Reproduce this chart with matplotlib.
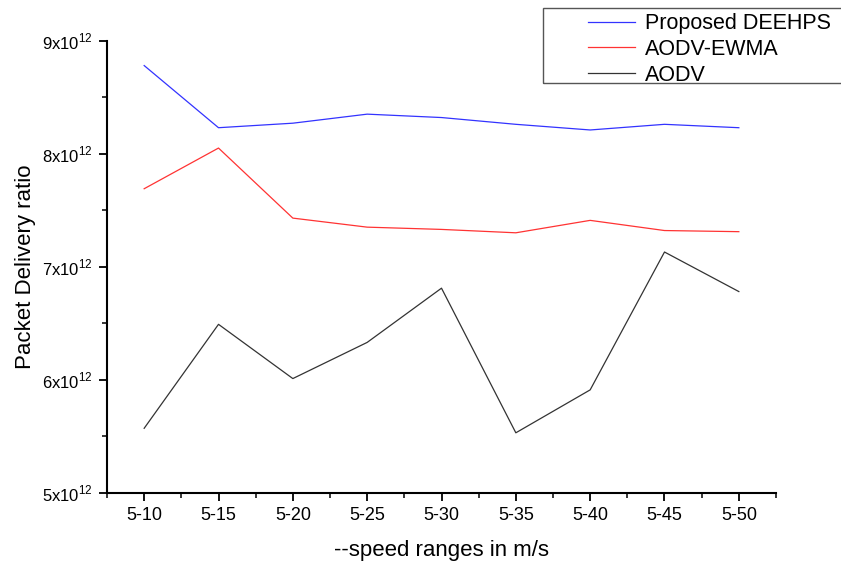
import matplotlib
matplotlib.use("Agg")
import matplotlib.pyplot as plt
from matplotlib.patches import Rectangle
from matplotlib.ticker import FixedLocator, MultipleLocator

plt.rcParams['font.family'] = ['Liberation Sans', 'DejaVu Sans']
plt.rcParams['mathtext.fontset'] = 'custom'
plt.rcParams['mathtext.rm'] = 'Liberation Sans'

categories = ['5-10', '5-15', '5-20', '5-25', '5-30', '5-35', '5-40', '5-45', '5-50']
deehps = [8.78, 8.23, 8.27, 8.35, 8.32, 8.26, 8.21, 8.26, 8.23]
aodv_ewma = [7.69, 8.05, 7.43, 7.35, 7.33, 7.30, 7.41, 7.32, 7.31]
aodv = [5.57, 6.49, 6.01, 6.33, 6.81, 5.53, 5.91, 7.13, 6.78]
scale = 1e12
y_ticks = [5, 6, 7, 8, 9]

fig = plt.figure(figsize=(8.41, 5.61), dpi=100)
ax = fig.add_axes([107/841, 1-492.7/561, (776-107)/841, (492.7-40.7)/561])

x = list(range(len(categories)))
l1, = ax.plot(x, [v*scale for v in deehps], color='#3333ff', lw=0.9, label='Proposed DEEHPS')
l2, = ax.plot(x, [v*scale for v in aodv_ewma], color='#ff3333', lw=0.9, label='AODV-EWMA')
l3, = ax.plot(x, [v*scale for v in aodv], color='#333333', lw=0.9, label='AODV')

ax.set_xlim(-0.5, 8.5)
ax.set_ylim(5e12, 9e12)
ax.set_xticks(x)
ax.set_xticklabels(categories, fontsize=13)
ax.xaxis.set_minor_locator(FixedLocator([i + 0.5 for i in range(-1, 9)]))
ax.set_yticks([v*scale for v in y_ticks])
ax.set_yticklabels([r'$%d\mathrm{x10}^{12}$' % v for v in y_ticks], fontsize=12)
ax.yaxis.set_minor_locator(MultipleLocator(0.5e12))
ax.tick_params(which='major', direction='out', length=6, width=1.3, pad=4)
ax.tick_params(which='minor', direction='out', length=3.5, width=1.1)
for s in ['top', 'right']:
    ax.spines[s].set_visible(False)
for s in ['left', 'bottom']:
    ax.spines[s].set_linewidth(1.5)

ax.set_xlabel('--speed ranges in m/s', fontsize=16, labelpad=12)
ax.set_ylabel('Packet Delivery ratio', fontsize=16, labelpad=5)

rect = Rectangle((543/841, 1-83/561), 0.5, 75/561, transform=fig.transFigure,
                 fill=False, edgecolor='#555555', lw=1.0, clip_on=False)
fig.add_artist(rect)
fig.legend(handles=[l1, l2, l3], loc='upper left',
           bbox_to_anchor=(582/841, 1-7/561), frameon=False,
           fontsize=15.5, handlelength=2.19, handletextpad=0.46,
           labelspacing=0.22, borderpad=0.29, borderaxespad=0)

fig.savefig('out.png', dpi=100)
